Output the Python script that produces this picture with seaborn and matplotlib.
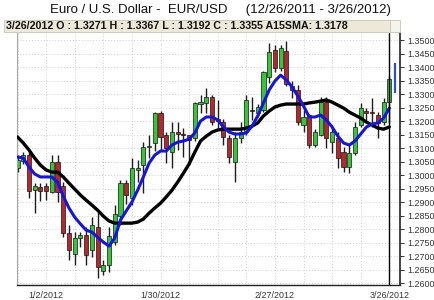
import numpy as np
import pandas as pd
import matplotlib
matplotlib.use("Agg")
import matplotlib.pyplot as plt
import seaborn as sns
from matplotlib.patches import Rectangle

sns.set_style("white")
plt.rcParams['font.family'] = ['Liberation Sans', 'DejaVu Sans']

# ---------------- data ----------------
dates = pd.bdate_range("2011-12-26", "2012-03-26")

opens = [1.3026, 1.3052, 1.3074, 1.2944, 1.2955, 1.2958, 1.2937, 1.3048, 1.2960, 1.2785,
         1.2707, 1.2767, 1.2778, 1.2722, 1.2807, 1.2644, 1.2667, 1.2752, 1.2850, 1.2970,
         1.2915, 1.3019, 1.3037, 1.3105, 1.3119, 1.3230, 1.3148, 1.3085, 1.3159, 1.3152,
         1.3148, 1.3137, 1.3263, 1.3267, 1.3289, 1.3207, 1.3196, 1.3137, 1.3048, 1.3137,
         1.3159, 1.3241, 1.3230, 1.3241, 1.3363, 1.3463, 1.3396, 1.3460, 1.3330, 1.3315,
         1.3185, 1.3222, 1.3111, 1.3148, 1.3270, 1.3122, 1.3137, 1.3085, 1.3030, 1.3081,
         1.3185, 1.3237, 1.3233, 1.3222, 1.3196, 1.3271]
closes = [1.3055, 1.3074, 1.2940, 1.2959, 1.2941, 1.2941, 1.3048, 1.2937, 1.2785, 1.2722,
          1.2767, 1.2778, 1.2704, 1.2815, 1.2660, 1.2667, 1.2775, 1.2856, 1.2970, 1.2925,
          1.3026, 1.3026, 1.3105, 1.3108, 1.3230, 1.3141, 1.3100, 1.3159, 1.3152, 1.3150,
          1.3130, 1.3267, 1.3270, 1.3289, 1.3196, 1.3200, 1.3141, 1.3067, 1.3137, 1.3159,
          1.3278, 1.3237, 1.3252, 1.3381, 1.3455, 1.3396, 1.3470, 1.3337, 1.3315, 1.3196,
          1.3215, 1.3111, 1.3159, 1.3270, 1.3137, 1.3159, 1.3063, 1.3030, 1.3081, 1.3178,
          1.3248, 1.3228, 1.3228, 1.3193, 1.3270, 1.3355]
highs = [1.3074, 1.3085, 1.3085, 1.2970, 1.2970, 1.2970, 1.3074, 1.3074, 1.2974, 1.2815,
         1.2790, 1.2790, 1.2807, 1.2844, 1.2870, 1.2685, 1.2807, 1.2889, 1.2981, 1.2981,
         1.3063, 1.3055, 1.3123, 1.3148, 1.3233, 1.3237, 1.3159, 1.3196, 1.3196, 1.3174,
         1.3148, 1.3270, 1.3296, 1.3322, 1.3296, 1.3278, 1.3207, 1.3148, 1.3159, 1.3196,
         1.3296, 1.3289, 1.3263, 1.3385, 1.3488, 1.3481, 1.3481, 1.3496, 1.3348, 1.3333,
         1.3241, 1.3226, 1.3170, 1.3289, 1.3289, 1.3185, 1.3159, 1.3104, 1.3111, 1.3196,
         1.3267, 1.3248, 1.3285, 1.3233, 1.3285, 1.3367]
lows = [1.3011, 1.3041, 1.2915, 1.2859, 1.2904, 1.2907, 1.2933, 1.2900, 1.2770, 1.2685,
        1.2667, 1.2733, 1.2667, 1.2696, 1.2619, 1.2630, 1.2640, 1.2740, 1.2815, 1.2893,
        1.2889, 1.2974, 1.2933, 1.3063, 1.3090, 1.3093, 1.3044, 1.3026, 1.3093, 1.3067,
        1.3037, 1.3126, 1.3230, 1.3230, 1.3185, 1.3174, 1.3111, 1.3044, 1.2974, 1.3119,
        1.3148, 1.3204, 1.3215, 1.3233, 1.3341, 1.3381, 1.3385, 1.3330, 1.3285, 1.3185,
        1.3159, 1.3100, 1.3104, 1.3144, 1.3100, 1.3081, 1.3026, 1.3011, 1.3007, 1.3074,
        1.3178, 1.3196, 1.3178, 1.3137, 1.3185, 1.3192]
sma_fast = [1.3067, 1.3063, 1.3030, 1.3004, 1.2993, 1.2993, 1.2993, 1.2974, 1.2922, 1.2878,
            1.2844, 1.2819, 1.2796, 1.2789, 1.2770, 1.2752, 1.2737, 1.2767, 1.2833, 1.2867,
            1.2900, 1.2944, 1.2993, 1.3044, 1.3074, 1.3089, 1.3089, 1.3111, 1.3122, 1.3126,
            1.3133, 1.3156, 1.3200, 1.3215, 1.3215, 1.3204, 1.3178, 1.3159, 1.3152, 1.3152,
            1.3156, 1.3181, 1.3219, 1.3267, 1.3315, 1.3348, 1.3370, 1.3352, 1.3326, 1.3293,
            1.3256, 1.3215, 1.3215, 1.3222, 1.3204, 1.3178, 1.3144, 1.3119, 1.3111, 1.3126,
            1.3152, 1.3178, 1.3189, 1.3193, 1.3211, 1.3248]
sma15 = [1.3141, 1.3119, 1.3093, 1.3063, 1.3037, 1.3019, 1.3011, 1.3011, 1.2993, 1.2970,
         1.2948, 1.2926, 1.2907, 1.2889, 1.2870, 1.2848, 1.2830, 1.2822, 1.2822, 1.2822,
         1.2822, 1.2826, 1.2837, 1.2859, 1.2878, 1.2896, 1.2919, 1.2944, 1.2974, 1.3007,
         1.3041, 1.3085, 1.3126, 1.3144, 1.3159, 1.3167, 1.3170, 1.3170, 1.3170, 1.3170,
         1.3174, 1.3181, 1.3193, 1.3219, 1.3237, 1.3252, 1.3259, 1.3263, 1.3263, 1.3263,
         1.3263, 1.3267, 1.3270, 1.3274, 1.3278, 1.3270, 1.3259, 1.3248, 1.3233, 1.3222,
         1.3211, 1.3196, 1.3185, 1.3174, 1.3170, 1.3178]

date_labels = ["1/2/2012", "1/30/2012", "2/27/2012", "3/26/2012"]
price_ticks = np.round(np.arange(1.2600, 1.35001, 0.005), 4)
marker_range = (1.3304, 1.3415)   # blue price marker at right

title = "Euro / U.S. Dollar -  EUR/USD     (12/26/2011 - 3/26/2012)"
info = "3/26/2012 O : 1.3271 H : 1.3367 L : 1.3192 C : 1.3355 A15SMA: 1.3178"

# ---------------- figure ----------------
n = len(dates)
idx = np.arange(n)
df = pd.DataFrame({"i": idx, "date": dates, "open": opens, "high": highs,
                   "low": lows, "close": closes, "fast": sma_fast, "sma15": sma15})

W, H = 434, 300
fig = plt.figure(figsize=(W / 100, H / 100), dpi=100)
fig.patch.set_facecolor("white")
ax = fig.add_axes([17 / W, 1 - 285 / H, (400 - 17) / W, (285 - 33) / H])

GREEN = "#33c833"
RED = "#b8262b"
cols = [GREEN if c >= o else RED for o, c in zip(df.open, df.close)]

ax.vlines(df.i, df.low, df.high, color="#1e1e1e", lw=1.0, zorder=2)
ax.bar(df.i, df.close - df.open, bottom=df.open, width=0.72, color=cols,
       edgecolor="#151515", linewidth=0.5, zorder=2.5)

sns.lineplot(data=df, x="i", y="sma15", color="black", lw=2.4, ax=ax, zorder=4)
sns.lineplot(data=df, x="i", y="fast", color="#1414e6", lw=2.2, ax=ax, zorder=5)

# last-date line and price marker
ax.axvline(n - 1, color="black", lw=1.0, zorder=6)
ax.vlines([n], marker_range[0], marker_range[1], color="#2a4fc8", lw=1.6,
          zorder=6, clip_on=False)

ax.set_xlim(-0.09, 66.87)
ax.set_ylim(1.2593, 1.3526)

# ticks / grid
label_pos = [i for i, d in enumerate(dates) if f"{d.month}/{d.day}/{d.year}" in date_labels]
ax.set_xticks(label_pos)
ax.set_xticklabels(date_labels)
ax.set_xticks(np.arange(0, n, 5), minor=True)
ax.yaxis.tick_right()
ax.set_yticks(price_ticks)
ax.set_yticklabels([f"{v:.4f}" for v in price_ticks])
ax.tick_params(axis="both", which="both", labelsize=6.4, colors="#333333", length=3,
               width=0.7, direction="out", pad=1.5)
ax.tick_params(axis="y", pad=2.5)
ax.grid(True, which="both", axis="x", color="#cfcfcf", lw=0.7, linestyle=(0, (1, 2)))
ax.grid(True, which="major", axis="y", color="#cfcfcf", lw=0.7, linestyle=(0, (1, 2)))
ax.set_axisbelow(True)
ax.set_xlabel("")
ax.set_ylabel("")

ax.spines["top"].set_visible(False)
ax.spines["left"].set_color("#a8a8a8")
ax.spines["left"].set_linewidth(0.8)
ax.spines["bottom"].set_color("#222222")
ax.spines["bottom"].set_linewidth(1.0)
ax.spines["right"].set_color("#222222")
ax.spines["right"].set_linewidth(1.2)

# info bar
fig.patches.append(Rectangle((4 / W, 1 - 32 / H), (390 - 4) / W, 12 / H,
                             transform=fig.transFigure, facecolor="#ECE9D8",
                             edgecolor="#c9c5b2", lw=0.6, zorder=0))
fig.patches.append(Rectangle((390 / W, 1 - 32 / H), 10 / W, 12 / H,
                             transform=fig.transFigure, facecolor="#F4F3EC",
                             edgecolor="#c9c5b2", lw=0.6, zorder=0))
fig.text(6 / W, 1 - 26 / H, info, fontsize=7.7, fontweight="bold", color="#111111",
         ha="left", va="center")

fig.text(220 / W, 1 - 10 / H, title, fontsize=9.5, color="#111111",
         ha="center", va="center")

fig.savefig("out.png", dpi=100)
